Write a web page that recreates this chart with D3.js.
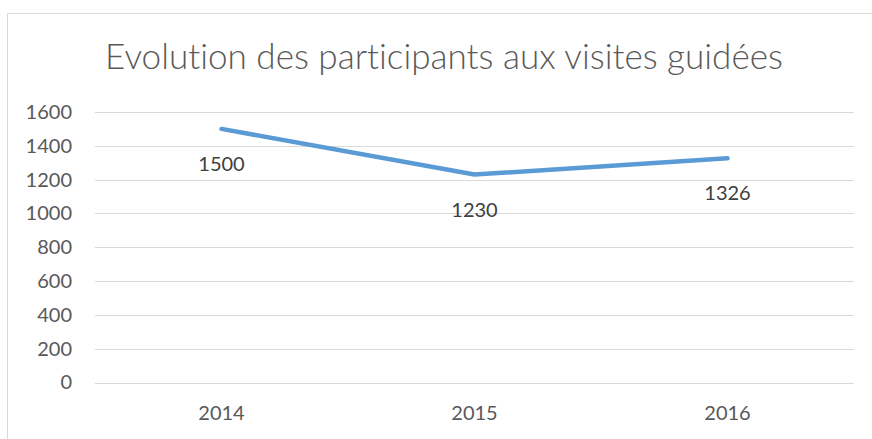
<!DOCTYPE html>
<html><head><meta charset="utf-8">
<script src="https://cdn.jsdelivr.net/npm/d3@7"></script>
<style>body{margin:0;background:#fff;}svg{display:block;font-family:Lato,"Open Sans",sans-serif;font-variant-ligatures:none;}</style>
</head><body>
<svg id="c" width="872" height="439"></svg>
<script>
const title = "Evolution des participants aux visites guidées";
const categories = ["2014", "2015", "2016"];
const values = [1500, 1230, 1326];
const yTicks = [0, 200, 400, 600, 800, 1000, 1200, 1400, 1600];

const svg = d3.select("#c");
const m = {left: 95, right: 854, top: 112, bottom: 382.5};

// outer border
svg.append("rect").attr("x", 7.5).attr("y", 13.5).attr("width", 900).attr("height", 500)
  .attr("fill", "none").attr("stroke", "#d9d9d9").attr("stroke-width", 1);

const x = d3.scaleBand().domain(categories).range([m.left, m.right]);
const y = d3.scaleLinear().domain([0, 1600]).range([m.bottom, m.top]);

// grid
svg.append("g").selectAll("line").data(yTicks).join("line")
  .attr("x1", m.left).attr("x2", m.right)
  .attr("y1", d => Math.round(y(d)) + 0.5).attr("y2", d => Math.round(y(d)) + 0.5)
  .attr("stroke", "#d9d9d9").attr("stroke-width", 1.2);

// y axis labels
const yAxis = d3.axisLeft(y).tickValues(yTicks).tickFormat(d3.format("d")).tickSize(0).tickPadding(0);
const gy = svg.append("g").attr("transform", "translate(72,0)").call(yAxis);
gy.select(".domain").remove();
gy.selectAll("text").attr("fill", "#595959").style("font-size", "20px").style("font-family", "Lato");

// x axis labels
const xAxis = d3.axisBottom(x).tickSize(0).tickPadding(0);
const gx = svg.append("g").attr("transform", "translate(0,406)").call(xAxis);
gx.select(".domain").remove();
gx.selectAll("text").attr("fill", "#595959").style("font-size", "20px").style("font-family", "Lato");

// line
const line = d3.line().x((d, i) => x(categories[i]) + x.bandwidth() / 2).y(d => y(d));
svg.append("path").datum(values).attr("d", line)
  .attr("fill", "none").attr("stroke", "#5b9bd5").attr("stroke-width", 4.5)
  .attr("stroke-linecap", "round").attr("stroke-linejoin", "round");

// data labels
svg.append("g").selectAll("text").data(values).join("text")
  .attr("x", (d, i) => x(categories[i]) + x.bandwidth() / 2)
  .attr("y", d => y(d) + 42)
  .attr("text-anchor", "middle").attr("fill", "#404040")
  .style("font-size", "20px").style("font-family", "Lato")
  .text(d => d);

// title
const t = svg.append("text").attr("x", 444).attr("y", 69).attr("text-anchor", "middle")
  .attr("fill", "#595959").style("font-family", "Lato").style("font-weight", 300)
  .style("font-size", "32px").text(title);
const w = t.node().getComputedTextLength();
t.style("font-size", (32 * 678 / w) + "px");
</script>
</body></html>
